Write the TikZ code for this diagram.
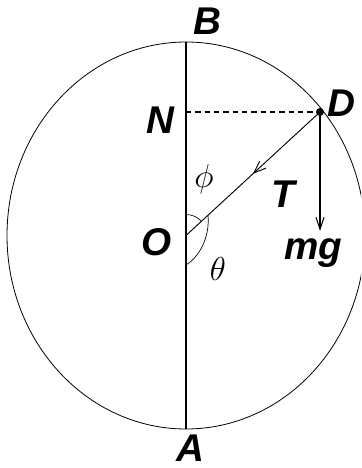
\documentclass[tikz,border=0pt]{standalone}
\usepackage{fontspec}
\setmainfont{Liberation Sans}
\usepackage{tikz}
\usetikzlibrary{arrows.meta, decorations.markings, calc}

\begin{document}
\begin{tikzpicture}[x=0.75pt, y=0.75pt, line width=0.7pt,
    lbl/.style={font=\fontsize{29}{33}\selectfont\bfseries\itshape, inner sep=0pt},
    ang/.style={font=\fontsize{31}{34}\selectfont, inner sep=0pt},
    force/.style={-{Straight Barb[length=9pt, width=6pt, line width=0.8pt]}}]
    \useasboundingbox (0,0) rectangle (361,468);
    \clip (0,0) rectangle (361,468);
    % points
    \coordinate (O) at (186,232.5);
    \coordinate (B) at (186,426);
    \coordinate (A) at (186,39);
    \coordinate (N) at (186,356);
    \coordinate (D) at (320,356);
    \coordinate (W) at (320,237);
    % rim of the ring
    \draw[line width=0.6pt] (O) ellipse [x radius=179, y radius=193.5];
    % vertical diameter
    \draw[line width=0.9pt] (B) -- (A);
    \draw[dashed, line width=0.8pt, dash pattern=on 4pt off 3pt] (N) -- (D);
    % tension along DO, arrow in the middle
    \draw[decoration={markings, mark=at position 0.5 with {\arrow{Straight Barb[length=9pt, width=7pt, line width=0.7pt]}}},
          postaction={decorate}] (D) -- (O);
    % weight
    \draw[force, line width=0.9pt] (D) -- (W);
    \fill (D) circle [radius=4];
    % angles
    \draw[line width=0.5pt] ($(O)+(0,21)$) arc [start angle=90, end angle=42.7, radius=21];
    \draw[line width=0.5pt] (208,253) .. controls (210,230) and (199,211) .. (186,203);
    % labels
    \foreach \pos/\txt/\name in {
        {(207,447)}/B/lb, {(160,348)}/N/ln, {(341,365)}/D/ld, {(283,274)}/T/lt,
        {(157,226)}/O/lo, {(313,215)}/mg/lw, {(190,20)}/A/la
    } {
        \node[lbl] (\name) at \pos {\txt};
    }
    \node[ang] (phi) at (204,289) {$\phi$};
    \node[ang] (theta) at (218,199) {$\theta$};
\end{tikzpicture}
\end{document}
